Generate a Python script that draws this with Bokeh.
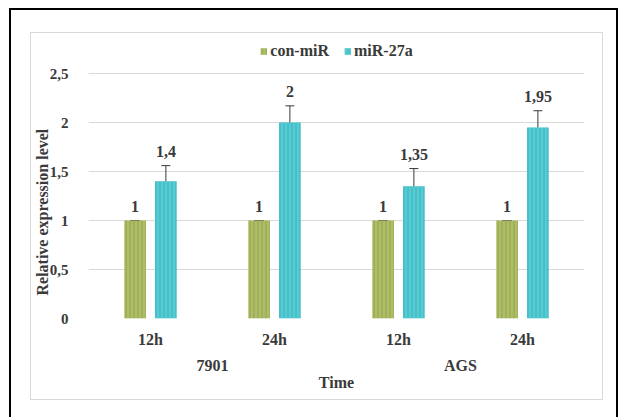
from bokeh.plotting import figure
from bokeh.models import (FactorRange, ColumnDataSource, Whisker, Legend, LegendItem,
                          FixedTicker, TeeHead, Title)
from bokeh.transform import dodge
from bokeh.embed import file_html
from bokeh.resources import INLINE
from bokeh.core.properties import value

# ---- data ----
groups = ["7901", "7901", "AGS", "AGS"]
times = ["12h", "24h", "12h", "24h"]
con_values = [1, 1, 1, 1]
con_errors = [0, 0, 0, 0]
mir_values = [1.4, 2.0, 1.35, 1.95]
mir_errors = [0.16, 0.17, 0.18, 0.17]
y_ticks = [0, 0.5, 1, 1.5, 2, 2.5]
y_tick_labels = ["0", "0,5", "1", "1,5", "2", "2,5"]

FONT = "'Liberation Serif', 'Times New Roman', serif"
TXT = "#3a3a3a"
CON_FILL, CON_HATCH = "#aebd68", "#98aa4e"
MIR_FILL, MIR_HATCH = "#43c0c9", "#66cfd6"


def fmt(v):
    s = ("%g" % v)
    return s.replace(".", ",")


factors = list(zip(groups, times))
src = ColumnDataSource(dict(
    x=factors,
    con=con_values,
    mir=mir_values,
    con_lo=[v - e for v, e in zip(con_values, con_errors)],
    con_hi=[v + e for v, e in zip(con_values, con_errors)],
    mir_lo=[v - e for v, e in zip(mir_values, mir_errors)],
    mir_hi=[v + e for v, e in zip(mir_values, mir_errors)],
    con_lbl=[fmt(v) for v in con_values],
    mir_lbl=[fmt(v) for v in mir_values],
))

x_range = FactorRange(*factors, factor_padding=0, group_padding=0, range_padding=0)

# frame runs from just under the top of the box down to the zero line;
# the 2,5 gridline sits 245 px above zero in a 277 px tall frame
TOP_FRAC = 277 / 245
p = figure(width=573, height=368, x_range=x_range, y_range=(0, 2.5 * TOP_FRAC),
           output_backend="svg", toolbar_location=None,
           min_border_left=57, min_border_right=20, min_border_top=8,
           min_border_bottom=83)
p.outline_line_color = None
p.background_fill_color = "white"
p.border_fill_color = "white"

OFF = 0.124
W = 0.175
r_con = p.vbar(x=dodge("x", -OFF, range=p.x_range), top="con", width=W, source=src,
               fill_color=CON_FILL, line_color=None,
               hatch_pattern="|", hatch_color=CON_HATCH, hatch_scale=4, hatch_weight=1.3)
r_mir = p.vbar(x=dodge("x", OFF, range=p.x_range), top="mir", width=W, source=src,
               fill_color=MIR_FILL, line_color=None,
               hatch_pattern="|", hatch_color=MIR_HATCH, hatch_scale=4, hatch_weight=1.3)

for off, lo, hi in [(-OFF, "con_lo", "con_hi"), (OFF, "mir_lo", "mir_hi")]:
    w = Whisker(base=dodge("x", off, range=p.x_range), lower=lo, upper=hi, source=src,
                line_color=TXT, line_width=1,
                upper_head=TeeHead(size=9, line_color=TXT, line_width=1),
                lower_head=TeeHead(size=9, line_color=TXT, line_width=1))
    p.add_layout(w)

for off, top, lbl in [(-OFF, "con_hi", "con_lbl"), (OFF, "mir_hi", "mir_lbl")]:
    p.text(x=dodge("x", off, range=p.x_range), y=top, text=lbl, source=src,
           text_align="center", text_baseline="bottom", y_offset=-9,
           text_font=value(FONT), text_font_style="bold", text_font_size="16px",
           text_color=TXT)

legend = Legend(items=[LegendItem(label="con-miR", renderers=[r_con]),
                       LegendItem(label="miR-27a", renderers=[r_mir])],
                orientation="horizontal", location="top_center",
                label_text_font=FONT, label_text_font_style="bold",
                label_text_font_size="16px", label_text_color=TXT,
                glyph_width=8, glyph_height=8, label_standoff=3, spacing=14,
                border_line_color=None, background_fill_alpha=0,
                padding=0, margin=1)
p.add_layout(legend)

# axes
p.xgrid.grid_line_color = None
p.ygrid.grid_line_color = "#d9d9d9"
p.ygrid.grid_line_width = 1
p.yaxis.ticker = FixedTicker(ticks=y_ticks)
p.ygrid.ticker = FixedTicker(ticks=y_ticks)
p.yaxis.major_label_overrides = {t: l for t, l in zip(y_ticks, y_tick_labels)}
for ax in (p.xaxis[0], p.yaxis[0]):
    ax.axis_line_color = None
    ax.major_tick_line_color = None
    ax.minor_tick_line_color = None
    ax.major_label_text_font = FONT
    ax.major_label_text_font_style = "bold"
    ax.major_label_text_color = TXT
    ax.axis_label_text_font = FONT
    ax.axis_label_text_font_style = "bold"
    ax.axis_label_text_color = TXT
    ax.axis_label_text_font_size = "16px"

p.yaxis.major_label_text_font_size = "15px"
p.yaxis.major_label_standoff = 14
p.yaxis.axis_label_standoff = 0

ytitle = Title(text="Relative expression level", align="left", offset=23,
               text_font=FONT, text_font_style="bold", text_font_size="16px",
               text_color=TXT, standoff=-8)
p.add_layout(ytitle, "left")

xa = p.xaxis[0]
xa.major_label_text_font_size = "16px"
xa.major_label_standoff = 6
xa.group_text_font = FONT
xa.group_text_font_style = "bold"
xa.group_text_font_size = "16px"
xa.group_text_color = TXT
xa.separator_line_color = None
xa.axis_label = "Time"
xa.axis_label_standoff = -3

p.styles = {"border": "1px solid #d9d9d9",
            "position": "relative", "left": "30px", "top": "32px",
            "box-shadow": ("-3px -6px 0 16px white, -3px 3px 0 16px white, "
                           "-3px -6px 0 18px black, -3px 3px 0 18px black")}

open("out.html", "w").write(file_html(p, INLINE))
